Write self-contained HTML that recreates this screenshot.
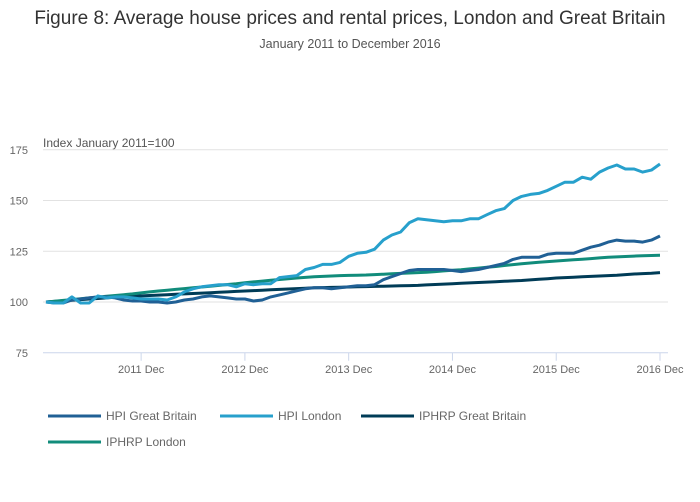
<!DOCTYPE html>
<html><head><meta charset="utf-8"><style>
body{margin:0;background:#fff;font-family:"Liberation Sans",sans-serif}
svg{display:block}
text{font-family:"Liberation Sans",sans-serif}
</style></head><body>
<svg id="chart" width="700" height="502">
<text x="350" y="24" text-anchor="middle" font-size="19" fill="#333">Figure 8: Average house prices and rental prices, London and Great Britain</text>
<text x="350" y="48" text-anchor="middle" font-size="12.5" fill="#555">January 2011 to December 2016</text>
<text x="43" y="147" font-size="12" fill="#555">Index January 2011=100</text>
<g id="grid"></g><g id="series"></g><g id="legend"></g>
</svg>
<script>
const yTicks=[75,100,125,150,175];
const xTickLabels=["2011 Dec","2012 Dec","2013 Dec","2014 Dec","2015 Dec","2016 Dec"];
const xTickMonths=[11,23,35,47,59,71];
const seriesNames=["HPI Great Britain","HPI London","IPHRP Great Britain","IPHRP London"];
const hpiGB=[100,99.5,99.5,101,101.5,102,102.5,102.5,102,101,100.5,100.5,100,100,99.5,100,101,101.5,102.5,103,102.5,102,101.5,101.5,100.5,101,102.5,103.5,104.5,105.5,106.5,107,107,106.5,107,107.5,108,108,108.5,111,112.5,114,115.5,116,116,116,116,115.5,115,115.5,116,117,118,119,121,122,122,122,123.5,124,124,124,125.5,127,128,129.5,130.5,130,130,129.5,130.5,132.5];
const hpiLondon=[100,99.5,99.5,102.5,99.5,99.5,103,102,102.5,102.5,102,101.5,101.5,101.5,101,102.5,105,106.5,107.5,108,108.5,108.5,107.5,109,108.5,109,109,112,112.5,113,116,117,118.5,118.5,119.5,122.5,124,124.5,126,130.5,133,134.5,139,141,140.5,140,139.5,140,140,141,141,143,145,146,150,152,153,153.5,155,157,159,159,161.5,160.5,164,166,167.5,165.5,165.5,164,165,168];
const iphrpGB=[100,100.3,100.6,100.9,101.2,101.5,101.7,102,102.3,102.6,102.8,103,103.2,103.4,103.6,103.8,104,104.2,104.4,104.6,104.8,105,105.2,105.4,105.6,105.8,106,106.2,106.4,106.6,106.8,107,107.1,107.2,107.3,107.4,107.5,107.6,107.7,107.8,107.9,108,108.1,108.2,108.4,108.6,108.8,109,109.2,109.4,109.6,109.8,110,110.2,110.4,110.6,110.9,111.2,111.5,111.8,112,112.2,112.4,112.6,112.8,113,113.2,113.5,113.8,114,114.2,114.5];
const iphrpLondon=[100,100.4,100.8,101.2,101.6,102,102.4,102.8,103.2,103.6,104,104.5,105,105.4,105.8,106.2,106.6,107,107.4,107.8,108.2,108.6,109,109.5,109.9,110.3,110.7,111.1,111.5,111.8,112.1,112.4,112.6,112.8,113,113.1,113.2,113.3,113.5,113.7,113.9,114.1,114.3,114.5,114.7,115,115.3,115.6,115.9,116.3,116.7,117.1,117.5,118,118.4,118.8,119.2,119.6,119.9,120.2,120.5,120.8,121.1,121.4,121.7,122,122.2,122.4,122.6,122.8,122.9,123];
const colors=["#206095","#27a0cc","#003c57","#118c7b"];
const allSeries=[hpiGB,hpiLondon,iphrpGB,iphrpLondon];
const NS="http://www.w3.org/2000/svg";
const x=m=>46+m*(614/71);
const y=v=>302-(v-100)*2.03;
function mk(tag,attrs,parent){const e=document.createElementNS(NS,tag);for(const k in attrs)e.setAttribute(k,attrs[k]);parent.appendChild(e);return e;}
const grid=document.getElementById('grid');
yTicks.forEach(t=>{
  if(t!==75){const l=mk('line',{x1:43,x2:668,y1:y(t),y2:y(t),stroke:'#e2e2e2','stroke-width':1},grid);
  
  }
  const tx=mk('text',{x:28,y:y(t)+4,'text-anchor':'end','font-size':11,fill:'#666'},grid);tx.textContent=t;
  
  
});
const ax=mk('line',{x1:43,x2:668,y1:y(75),y2:y(75),stroke:'#ccd6eb','stroke-width':1},grid);


xTickMonths.forEach((m,i)=>{
  mk('line',{x1:x(m),x2:x(m),y1:y(75),y2:y(75)+8,stroke:'#ccd6eb'},grid);
  const tx=mk('text',{x:x(m),y:y(75)+20,'text-anchor':'middle','font-size':11,fill:'#666'},grid);tx.textContent=xTickLabels[i];
  
  
});
const sg=document.getElementById('series');
[2,3,0,1].forEach(i=>{
  const d=allSeries[i].map((v,m)=>(m?'L':'M')+x(m).toFixed(1)+','+y(v).toFixed(1)).join('');
  const p=mk('path',{d:d,fill:'none',stroke:colors[i],'stroke-width':3,'stroke-linejoin':'round'},sg);
  
  
});
const lg=document.getElementById('legend');
const lpos=[[48,416],[220,416],[361,416],[48,442]];
lpos.forEach((p,i)=>{
  const g=mk('g',{},lg);
  
  
  mk('line',{x1:p[0],x2:p[0]+53,y1:p[1],y2:p[1],stroke:colors[i],'stroke-width':3},g);
  const t=mk('text',{x:p[0]+58,y:p[1]+4,'font-size':12,fill:'#666'},g);t.textContent=seriesNames[i];
});
</script>
</body></html>
